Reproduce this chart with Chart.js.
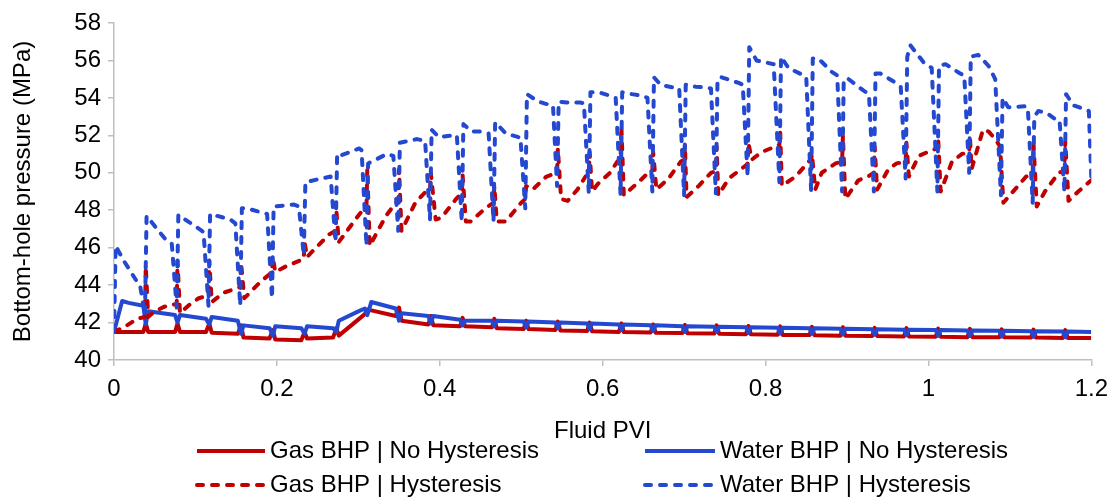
<!DOCTYPE html>
<html>
<head>
<meta charset="utf-8">
<script src="https://cdn.jsdelivr.net/npm/chart.js@4.4.0/dist/chart.umd.min.js"></script>
<style>
  html, body { margin: 0; padding: 0; background: #fff; }
  #wrap { width: 1117px; height: 498px; position: relative; }
</style>
</head>
<body>
<div id="wrap"><canvas id="bhpChart"></canvas></div>
<script>
// Series values (x = fluid PVI, y = BHP in MPa)

const gasNoHystPvi = [0.000, 0.036, 0.039, 0.042, 0.075, 0.078, 0.081, 0.113, 0.117, 0.120, 0.152, 0.156, 0.159, 0.191, 0.195, 0.198, 0.230, 0.234, 0.237, 0.269, 0.273, 0.276, 0.308, 0.311, 0.316, 0.346, 0.350, 0.353, 0.386, 0.389, 0.392, 0.425, 0.428, 0.431, 0.464, 0.467, 0.470, 0.503, 0.506, 0.509, 0.542, 0.545, 0.548, 0.581, 0.584, 0.587, 0.620, 0.623, 0.626, 0.659, 0.662, 0.665, 0.698, 0.701, 0.704, 0.737, 0.740, 0.743, 0.776, 0.779, 0.782, 0.815, 0.818, 0.821, 0.854, 0.857, 0.860, 0.892, 0.895, 0.898, 0.931, 0.934, 0.937, 0.970, 0.973, 0.976, 1.009, 1.012, 1.015, 1.048, 1.051, 1.054, 1.087, 1.090, 1.093, 1.126, 1.129, 1.132, 1.165, 1.168, 1.171, 1.200];
const gasNoHystBhp = [41.5, 41.5, 41.95, 41.5, 41.5, 41.95, 41.5, 41.5, 41.95, 41.45, 41.4, 41.85, 41.2, 41.15, 41.6, 41.1, 41.05, 41.5, 41.15, 41.2, 41.7, 41.3, 42.45, 42.7, 42.65, 42.35, 42.8, 42.1, 41.9, 42.35, 41.85, 41.8, 42.25, 41.8, 41.75, 42.2, 41.7, 41.65, 42.1, 41.65, 41.6, 42.05, 41.58, 41.55, 42.0, 41.53, 41.5, 41.95, 41.49, 41.47, 41.9, 41.46, 41.44, 41.87, 41.43, 41.41, 41.85, 41.4, 41.38, 41.82, 41.37, 41.35, 41.8, 41.34, 41.33, 41.77, 41.32, 41.3, 41.75, 41.3, 41.28, 41.72, 41.28, 41.26, 41.7, 41.26, 41.24, 41.68, 41.24, 41.22, 41.66, 41.22, 41.21, 41.64, 41.21, 41.2, 41.62, 41.2, 41.18, 41.6, 41.18, 41.17];

const waterNoHystPvi = [0.000, 0.010, 0.018, 0.036, 0.039, 0.042, 0.075, 0.078, 0.081, 0.113, 0.117, 0.120, 0.152, 0.156, 0.159, 0.191, 0.195, 0.198, 0.230, 0.234, 0.237, 0.269, 0.273, 0.276, 0.300, 0.308, 0.311, 0.316, 0.346, 0.350, 0.353, 0.386, 0.389, 0.392, 0.425, 0.428, 0.431, 0.464, 0.467, 0.470, 0.503, 0.506, 0.509, 0.542, 0.545, 0.548, 0.581, 0.584, 0.587, 0.620, 0.623, 0.626, 0.659, 0.662, 0.665, 0.698, 0.701, 0.704, 0.737, 0.740, 0.743, 0.776, 0.779, 0.782, 0.815, 0.818, 0.821, 0.854, 0.857, 0.860, 0.892, 0.895, 0.898, 0.931, 0.934, 0.937, 0.970, 0.973, 0.976, 1.009, 1.012, 1.015, 1.048, 1.051, 1.054, 1.087, 1.090, 1.093, 1.126, 1.129, 1.132, 1.165, 1.168, 1.171, 1.200];
const waterNoHystBhp = [41.5, 43.15, 43.05, 42.9, 41.9, 42.6, 42.4, 42.0, 42.4, 42.2, 41.9, 42.3, 42.1, 41.4, 41.85, 41.7, 41.3, 41.8, 41.7, 41.4, 41.8, 41.7, 41.5, 42.1, 42.6, 42.75, 42.4, 43.1, 42.75, 42.1, 42.5, 42.35, 41.95, 42.35, 42.15, 41.85, 42.1, 42.1, 41.8, 42.1, 42.05, 41.75, 42.05, 42.0, 41.7, 42.0, 41.95, 41.65, 41.95, 41.9, 41.6, 41.9, 41.85, 41.55, 41.85, 41.8, 41.5, 41.8, 41.78, 41.5, 41.78, 41.75, 41.45, 41.75, 41.72, 41.42, 41.72, 41.7, 41.4, 41.7, 41.67, 41.37, 41.67, 41.64, 41.35, 41.64, 41.62, 41.32, 41.62, 41.6, 41.3, 41.6, 41.58, 41.28, 41.58, 41.56, 41.26, 41.56, 41.54, 41.24, 41.54, 41.52, 41.22, 41.52, 41.5];

const gasHystPvi = [0.000, 0.016, 0.028, 0.038, 0.039, 0.042, 0.050, 0.062, 0.077, 0.078, 0.081, 0.094, 0.104, 0.116, 0.117, 0.120, 0.135, 0.155, 0.156, 0.160, 0.178, 0.194, 0.195, 0.198, 0.211, 0.233, 0.234, 0.237, 0.248, 0.264, 0.272, 0.273, 0.276, 0.298, 0.307, 0.310, 0.311, 0.314, 0.334, 0.346, 0.349, 0.350, 0.353, 0.370, 0.383, 0.388, 0.389, 0.395, 0.402, 0.420, 0.427, 0.428, 0.432, 0.438, 0.456, 0.466, 0.467, 0.470, 0.481, 0.500, 0.505, 0.506, 0.514, 0.531, 0.544, 0.545, 0.549, 0.557, 0.569, 0.579, 0.583, 0.584, 0.587, 0.594, 0.609, 0.618, 0.622, 0.623, 0.626, 0.644, 0.656, 0.661, 0.662, 0.666, 0.681, 0.696, 0.700, 0.701, 0.703, 0.718, 0.733, 0.739, 0.740, 0.742, 0.755, 0.776, 0.778, 0.779, 0.783, 0.795, 0.812, 0.817, 0.818, 0.820, 0.837, 0.853, 0.856, 0.857, 0.861, 0.869, 0.886, 0.894, 0.895, 0.898, 0.914, 0.926, 0.933, 0.934, 0.937, 0.951, 0.961, 0.972, 0.973, 0.976, 0.988, 1.004, 1.011, 1.012, 1.015, 1.029, 1.041, 1.050, 1.051, 1.053, 1.061, 1.067, 1.074, 1.082, 1.088, 1.092, 1.106, 1.120, 1.128, 1.129, 1.133, 1.143, 1.160, 1.167, 1.168, 1.172, 1.184, 1.200];
const gasHystBhp = [41.5, 41.85, 42.2, 42.3, 45.0, 42.3, 42.6, 42.85, 43.0, 45.3, 42.5, 43.0, 43.3, 43.45, 45.3, 43.1, 43.6, 43.9, 45.2, 43.3, 44.1, 44.7, 45.5, 44.7, 45.0, 45.4, 46.3, 45.5, 46.0, 46.7, 46.9, 48.0, 46.3, 47.6, 48.1, 48.2, 50.2, 46.1, 47.7, 48.4, 48.5, 50.2, 46.9, 48.4, 49.0, 49.0, 50.0, 47.5, 47.6, 48.6, 48.9, 49.9, 47.4, 47.4, 48.1, 48.4, 49.3, 47.4, 47.4, 48.4, 48.6, 49.3, 49.1, 49.8, 50.0, 51.3, 48.6, 48.5, 49.1, 49.8, 49.9, 51.1, 49.0, 49.4, 50.0, 50.6, 50.7, 52.5, 48.8, 49.5, 50.0, 50.1, 51.1, 49.1, 49.7, 50.6, 50.7, 51.5, 48.7, 49.3, 50.0, 50.1, 51.4, 48.8, 49.7, 50.4, 50.5, 51.6, 50.7, 51.1, 51.4, 51.5, 52.2, 49.3, 49.8, 50.6, 50.7, 51.0, 49.1, 50.0, 50.5, 50.6, 52.0, 48.6, 49.6, 49.8, 50.0, 51.4, 49.1, 50.2, 50.5, 50.6, 51.6, 49.8, 50.9, 51.2, 51.3, 51.8, 49.0, 50.6, 51.0, 51.1, 51.9, 50.2, 51.4, 52.3, 52.2, 51.8, 51.4, 48.4, 49.1, 49.8, 49.9, 51.6, 48.2, 49.0, 50.0, 50.1, 51.7, 48.5, 49.0, 49.6];

const waterHystPvi = [0.000, 0.002, 0.012, 0.028, 0.032, 0.038, 0.040, 0.064, 0.071, 0.077, 0.079, 0.108, 0.110, 0.116, 0.118, 0.143, 0.149, 0.155, 0.157, 0.163, 0.188, 0.194, 0.196, 0.221, 0.227, 0.233, 0.235, 0.266, 0.272, 0.274, 0.277, 0.301, 0.304, 0.310, 0.312, 0.335, 0.343, 0.349, 0.351, 0.372, 0.382, 0.388, 0.390, 0.399, 0.417, 0.421, 0.427, 0.429, 0.439, 0.451, 0.460, 0.466, 0.468, 0.481, 0.497, 0.499, 0.505, 0.507, 0.521, 0.537, 0.539, 0.544, 0.546, 0.558, 0.573, 0.577, 0.583, 0.585, 0.595, 0.610, 0.616, 0.622, 0.624, 0.636, 0.650, 0.655, 0.661, 0.663, 0.671, 0.687, 0.694, 0.700, 0.702, 0.714, 0.728, 0.733, 0.739, 0.741, 0.746, 0.767, 0.772, 0.778, 0.780, 0.789, 0.810, 0.817, 0.819, 0.828, 0.847, 0.850, 0.856, 0.858, 0.865, 0.881, 0.888, 0.894, 0.896, 0.902, 0.920, 0.927, 0.933, 0.935, 0.941, 0.960, 0.966, 0.972, 0.974, 0.978, 0.994, 1.004, 1.011, 1.013, 1.021, 1.039, 1.044, 1.050, 1.052, 1.061, 1.074, 1.082, 1.089, 1.091, 1.098, 1.119, 1.122, 1.128, 1.130, 1.135, 1.145, 1.156, 1.161, 1.167, 1.169, 1.178, 1.192, 1.197, 1.200];
const waterHystBhp = [41.5, 46.1, 45.3, 44.2, 44.0, 42.4, 47.7, 46.4, 46.2, 42.8, 47.75, 46.9, 46.8, 42.9, 47.8, 47.5, 47.3, 42.9, 48.1, 48.1, 47.8, 43.3, 48.2, 48.3, 48.2, 45.6, 49.5, 49.8, 46.3, 51.0, 50.9, 51.3, 51.2, 46.1, 50.5, 51.0, 50.9, 46.9, 51.6, 51.8, 51.7, 47.5, 52.3, 51.9, 52.0, 52.0, 47.4, 52.6, 52.2, 52.2, 52.1, 47.4, 52.7, 52.1, 51.9, 51.9, 48.1, 54.2, 53.8, 53.6, 53.6, 49.3, 53.8, 53.75, 53.75, 53.7, 48.9, 54.3, 54.3, 54.1, 54.0, 48.8, 54.3, 54.2, 54.1, 54.0, 49.0, 55.1, 54.7, 54.55, 54.5, 48.8, 54.7, 54.6, 54.55, 54.5, 48.9, 55.0, 55.1, 54.8, 54.7, 49.8, 56.7, 56.0, 55.8, 49.5, 56.2, 55.6, 55.2, 55.1, 49.0, 56.1, 56.1, 55.4, 55.2, 49.0, 55.0, 55.0, 54.4, 54.2, 49.0, 55.3, 55.3, 54.8, 54.6, 49.7, 56.2, 56.8, 55.9, 55.6, 49.0, 55.7, 55.8, 55.3, 55.2, 50.0, 56.2, 56.3, 55.7, 55.0, 48.8, 54.0, 53.5, 53.55, 53.5, 48.4, 53.0, 53.3, 53.2, 52.85, 52.8, 49.0, 54.2, 53.6, 53.4, 53.3, 49.7];

const seriesLabels = [
    'Gas BHP | No Hysteresis',
    'Water BHP | No Hysteresis',
    'Gas BHP | Hysteresis',
    'Water BHP | Hysteresis'
];

const RED = '#c00000';
const BLUE = '#2448d0';
const FONT = '"Liberation Sans", Arial, sans-serif';

function toPoints(xs, ys) {
    return xs.map((x, i) => ({ x: x, y: ys[i] }));
}

function lineDataset(label, xs, ys, color, dashed, order) {
    return {
        label: label,
        data: toPoints(xs, ys),
        borderColor: color,
        backgroundColor: color,
        borderWidth: 4,
        borderDash: dashed ? [6, 9] : [],
        borderCapStyle: dashed ? 'round' : 'butt',
        borderJoinStyle: 'round',
        pointRadius: 0,
        pointHoverRadius: 0,
        tension: 0,
        fill: false,
        order: order
    };
}

// Two-column legend under the x-axis title
const gridLegend = {
    id: 'gridLegend',
    afterDraw(chart) {
        const ctx = chart.ctx;
        const cols = [{ x0: 197, x1: 265, tx: 270 }, { x0: 645, x1: 715, tx: 720 }];
        const rows = [451, 485];
        ctx.save();
        ctx.font = '24px ' + FONT;
        ctx.textBaseline = 'middle';
        ctx.textAlign = 'left';
        chart.data.datasets.forEach((ds, i) => {
            const c = cols[i % 2];
            const y = rows[Math.floor(i / 2)];
            ctx.strokeStyle = ds.borderColor;
            ctx.lineWidth = ds.borderWidth;
            ctx.lineCap = ds.borderCapStyle;
            ctx.setLineDash(ds.borderDash);
            ctx.beginPath();
            ctx.moveTo(c.x0, y);
            ctx.lineTo(c.x1, y);
            ctx.stroke();
            ctx.setLineDash([]);
            ctx.fillStyle = '#000';
            ctx.fillText(ds.label, c.tx, y);
        });
        ctx.restore();
    }
};

const axisGrid = {
    display: true,
    drawOnChartArea: false,
    drawTicks: true,
    tickLength: 6,
    color: '#bfbfbf',
    lineWidth: 1.5
};

new Chart(document.getElementById('bhpChart'), {
    type: 'line',
    data: {
        datasets: [
            lineDataset(seriesLabels[0], gasNoHystPvi, gasNoHystBhp, RED, false, 4),
            lineDataset(seriesLabels[1], waterNoHystPvi, waterNoHystBhp, BLUE, false, 3),
            lineDataset(seriesLabels[2], gasHystPvi, gasHystBhp, RED, true, 2),
            lineDataset(seriesLabels[3], waterHystPvi, waterHystBhp, BLUE, true, 1)
        ]
    },
    options: {
        responsive: true,
        maintainAspectRatio: false,
        animation: false,
        devicePixelRatio: 1,
        layout: {
            padding: { top: 23, right: 24, bottom: 52, left: 0 }
        },
        plugins: {
            legend: { display: false },
            tooltip: { enabled: false }
        },
        scales: {
            x: {
                type: 'linear',
                min: 0,
                max: 1.2,
                grid: axisGrid,
                border: { display: true, color: '#bfbfbf', width: 1.5 },
                ticks: {
                    stepSize: 0.2,
                    color: '#000',
                    padding: 9,
                    maxRotation: 0,
                    font: { family: FONT, size: 24 },
                    callback: v => String(Math.round(v * 10) / 10)
                },
                title: {
                    display: true,
                    text: 'Fluid PVI',
                    color: '#000',
                    font: { family: FONT, size: 24 },
                    padding: { top: 0, bottom: 0 }
                },
                afterFit(scale) { scale.height = 86; }
            },
            y: {
                type: 'linear',
                min: 40,
                max: 58,
                grid: axisGrid,
                border: { display: true, color: '#bfbfbf', width: 1.5 },
                ticks: {
                    stepSize: 2,
                    color: '#000',
                    padding: 7,
                    font: { family: FONT, size: 24 }
                },
                title: {
                    display: true,
                    text: 'Bottom-hole pressure (MPa)',
                    color: '#000',
                    font: { family: FONT, size: 24 },
                    padding: { top: 9, bottom: 0 }
                },
                afterFit(scale) { scale.width = 114; }
            }
        }
    },
    plugins: [gridLegend]
});
</script>
</body>
</html>
